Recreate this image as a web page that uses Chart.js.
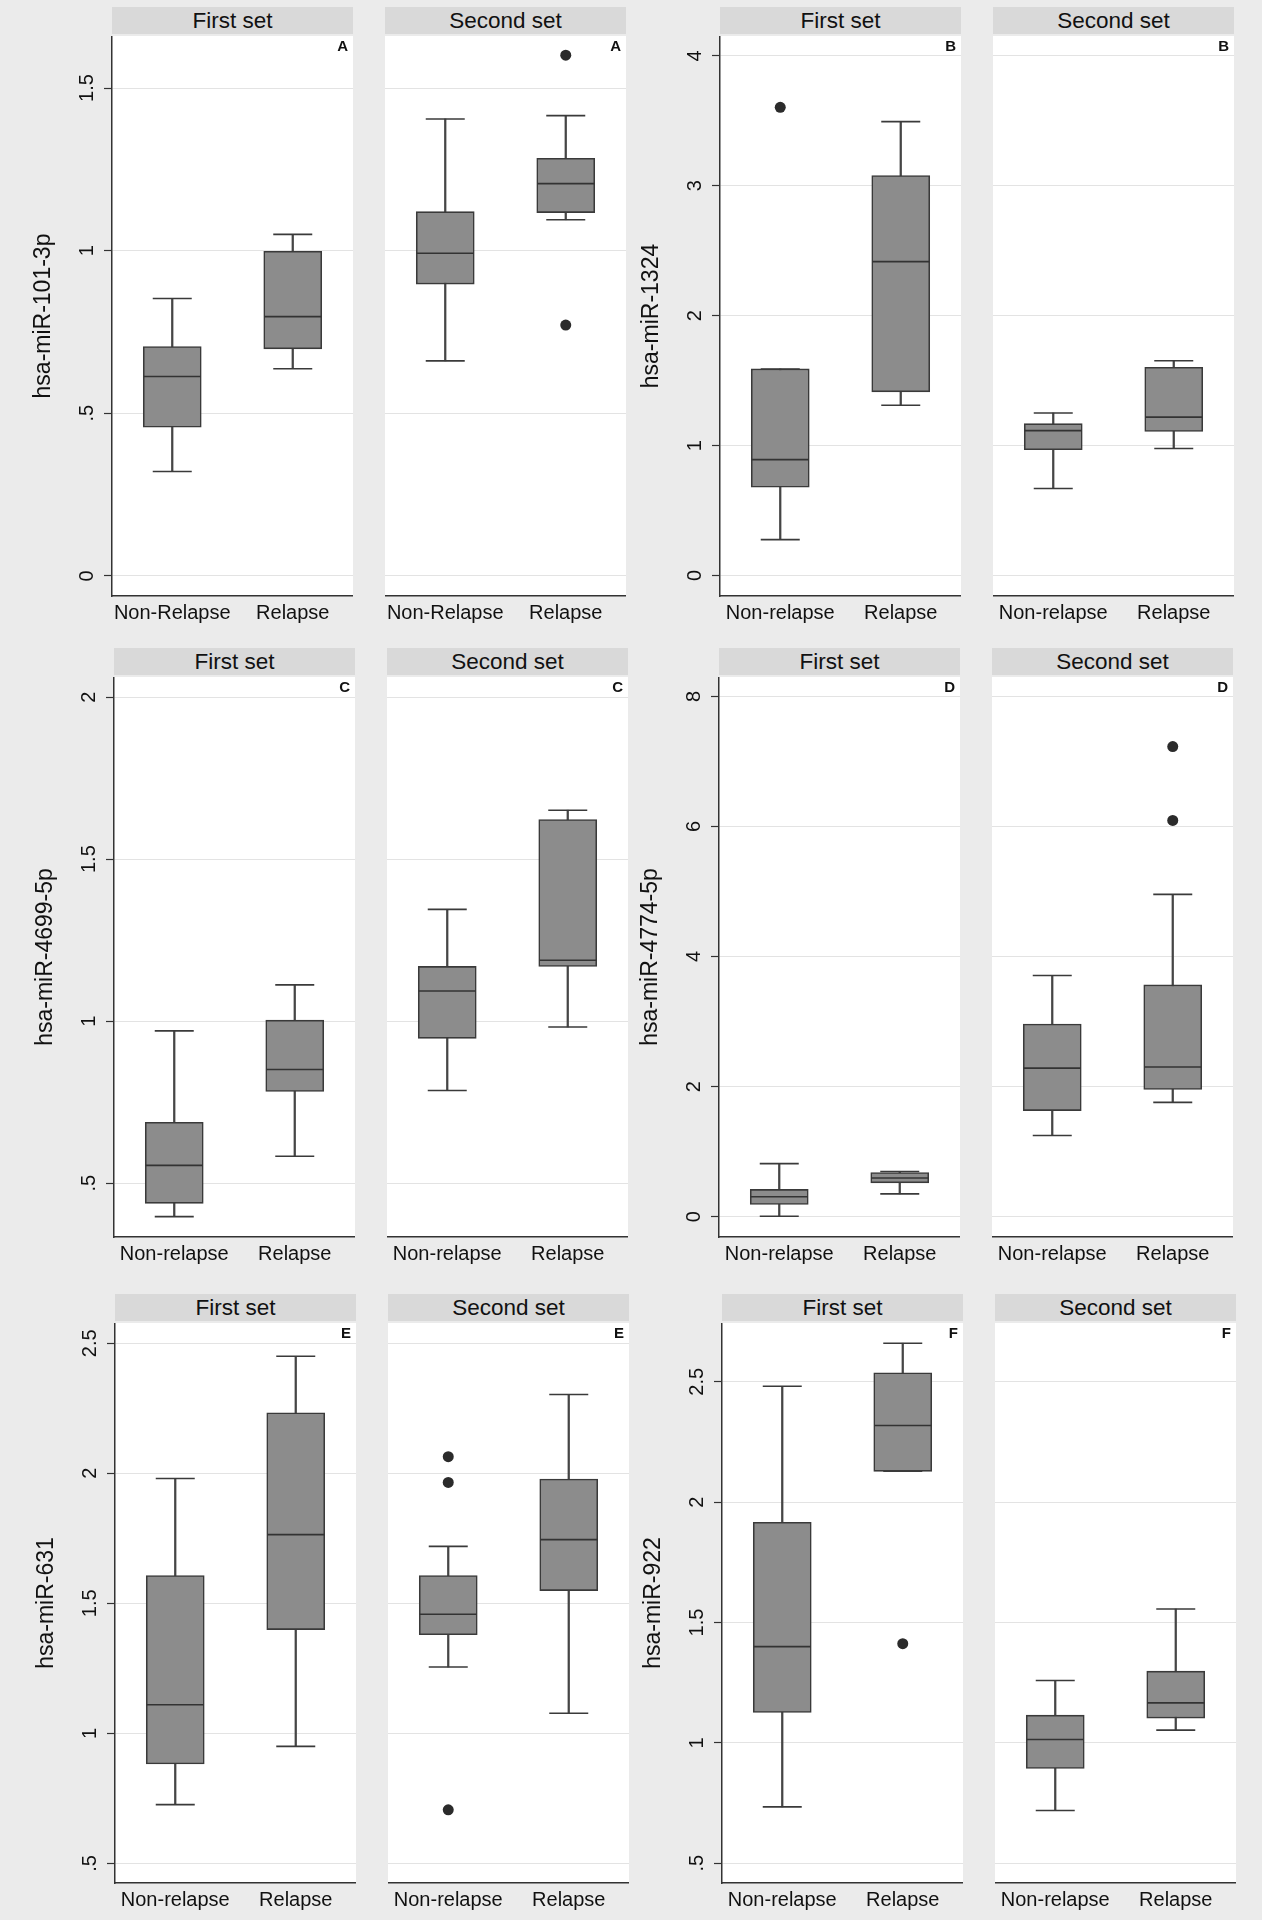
<!DOCTYPE html>
<html><head><meta charset="utf-8">
<script src="https://cdn.jsdelivr.net/npm/chart.js"></script>
<style>
html,body{margin:0;padding:0;background:#ebebeb;}
body{width:1262px;height:1920px;position:relative;overflow:hidden;font-family:"Liberation Sans",Arial,sans-serif;}
canvas{position:absolute;}
.strip{position:absolute;background:#d9d9d9;color:#111;font-size:22.5px;display:flex;align-items:center;justify-content:center;}
.tag{position:absolute;font-weight:bold;font-size:15px;line-height:16px;color:#111;text-align:right;width:30px;}
</style></head><body>
<script>
// ---------- DATA ----------
const panelLetters = ['A', 'B', 'C', 'D', 'E', 'F'];
const setNames = ['First set', 'Second set'];
const groupsA = ['Non-Relapse', 'Relapse'];
const groupsOther = ['Non-relapse', 'Relapse'];
const yTitles = ['hsa-miR-101-3p', 'hsa-miR-1324', 'hsa-miR-4699-5p', 'hsa-miR-4774-5p', 'hsa-miR-631', 'hsa-miR-922'];

const ticksA = [0, 0.5, 1, 1.5];      const tickLabelsA = ['0', '.5', '1', '1.5'];
const ticksB = [0, 1, 2, 3, 4];       const tickLabelsB = ['0', '1', '2', '3', '4'];
const ticksC = [0.5, 1, 1.5, 2];      const tickLabelsC = ['.5', '1', '1.5', '2'];
const ticksD = [0, 2, 4, 6, 8];       const tickLabelsD = ['0', '2', '4', '6', '8'];
const ticksE = [0.5, 1, 1.5, 2, 2.5]; const tickLabelsE = ['.5', '1', '1.5', '2', '2.5'];
const ticksF = [0.5, 1, 1.5, 2, 2.5]; const tickLabelsF = ['.5', '1', '1.5', '2', '2.5'];

const rangeA = [-0.062, 1.66];
const rangeB = [-0.158, 4.153];
const rangeC = [0.334, 2.062];
const rangeD = [-0.312, 8.297];
const rangeE = [0.4245, 2.578];
const rangeF = [0.418, 2.744];

// box stats per group: [lower whisker, Q1, median, Q3, upper whisker]
const A_first  = [[0.321, 0.457, 0.613, 0.705, 0.853], [0.637, 0.698, 0.797, 0.998, 1.050]];
const A_second = [[0.661, 0.897, 0.992, 1.120, 1.405], [1.095, 1.117, 1.206, 1.284, 1.415]];
const B_first  = [[0.276, 0.679, 0.892, 1.590, 1.590], [1.310, 1.414, 2.416, 3.079, 3.494]];
const B_second = [[0.669, 0.968, 1.115, 1.169, 1.251], [0.977, 1.109, 1.219, 1.603, 1.653]];
const C_first  = [[0.397, 0.438, 0.555, 0.688, 0.970], [0.583, 0.783, 0.851, 1.003, 1.112]];
const C_second = [[0.786, 0.947, 1.093, 1.169, 1.345], [0.982, 1.169, 1.188, 1.622, 1.651]];
const D_first  = [[0.006, 0.188, 0.307, 0.420, 0.816], [0.351, 0.521, 0.596, 0.678, 0.696]];
const D_second = [[1.248, 1.631, 2.284, 2.961, 3.708], [1.757, 1.957, 2.302, 3.563, 4.956]];
const E_first  = [[0.726, 0.882, 1.110, 1.607, 1.980], [0.950, 1.399, 1.764, 2.233, 2.450]];
const E_second = [[1.255, 1.379, 1.458, 1.607, 1.719], [1.077, 1.549, 1.745, 1.978, 2.303]];
const F_first  = [[0.734, 1.126, 1.400, 1.916, 2.481], [2.128, 2.128, 2.318, 2.537, 2.660]];
const F_second = [[0.719, 0.894, 1.014, 1.115, 1.259], [1.053, 1.103, 1.166, 1.298, 1.556]];

// outliers per group
const A_first_out  = [[], []];
const A_second_out = [[], [1.601, 0.771]];
const B_first_out  = [[3.604], []];
const B_second_out = [[], []];
const C_first_out  = [[], []];
const C_second_out = [[], []];
const D_first_out  = [[], []];
const D_second_out = [[], [7.227, 6.092]];
const E_first_out  = [[], []];
const E_second_out = [[2.064, 1.965, 0.706], []];
const F_first_out  = [[], [1.412]];
const F_second_out = [[], []];

// ---------- ASSEMBLY ----------
const panels = [
  {groups: groupsA,     ticks: ticksA, tickLabels: tickLabelsA, range: rangeA, sets: [A_first, A_second], outs: [A_first_out, A_second_out]},
  {groups: groupsOther, ticks: ticksB, tickLabels: tickLabelsB, range: rangeB, sets: [B_first, B_second], outs: [B_first_out, B_second_out]},
  {groups: groupsOther, ticks: ticksC, tickLabels: tickLabelsC, range: rangeC, sets: [C_first, C_second], outs: [C_first_out, C_second_out]},
  {groups: groupsOther, ticks: ticksD, tickLabels: tickLabelsD, range: rangeD, sets: [D_first, D_second], outs: [D_first_out, D_second_out]},
  {groups: groupsOther, ticks: ticksE, tickLabels: tickLabelsE, range: rangeE, sets: [E_first, E_second], outs: [E_first_out, E_second_out]},
  {groups: groupsOther, ticks: ticksF, tickLabels: tickLabelsF, range: rangeF, sets: [F_first, F_second], outs: [F_first_out, F_second_out]}
];

// layout: [sub1 left, sub2 left, plot top]
const layout = [[112, 385, 36], [720, 993, 36], [114, 387, 677], [719, 992, 677], [115, 388, 1323], [722, 995, 1323]];
const SUBW = 241, PLOTH = 560, YAXW = 100, XAXH = 40;
const FAMILY = '"Liberation Sans", Arial, sans-serif';

const measureCtx = document.createElement('canvas').getContext('2d');
measureCtx.font = '20px ' + FAMILY;

const plotBg = {
  id: 'plotBg',
  beforeDraw(chart) {
    const {ctx, chartArea: a} = chart;
    ctx.save();
    ctx.fillStyle = '#ffffff';
    ctx.fillRect(a.left, a.top, a.right - a.left, a.bottom - a.top);
    ctx.restore();
  }
};

function addDiv(cls, text, left, top, width, height) {
  const d = document.createElement('div');
  d.className = cls;
  d.textContent = text;
  d.style.left = left + 'px';
  d.style.top = top + 'px';
  if (width != null) d.style.width = width + 'px';
  if (height != null) d.style.height = height + 'px';
  document.body.appendChild(d);
}

function zeroPad(s) { s.paddingTop = 0; s.paddingBottom = 0; s.paddingLeft = 0; s.paddingRight = 0; }

function makeChart(p, pi, si) {
  const [x1, x2, top] = layout[pi];
  const first = si === 0;
  const stats = p.sets[si];
  const outs = p.outs[si];
  const canvas = document.createElement('canvas');
  const w = first ? YAXW + SUBW : SUBW;
  canvas.width = w; canvas.height = PLOTH + XAXH;
  canvas.style.left = (first ? x1 - YAXW : x2) + 'px';
  canvas.style.top = top + 'px';
  document.body.appendChild(canvas);

  // tick label centre should sit 25px left of the axis line
  const widest = Math.max(...p.tickLabels.map(t => measureCtx.measureText(t).width));
  const tickPad = Math.max(0, 25 - 8 - widest / 2);

  const outPts = [];
  outs.forEach((arr, gi) => arr.forEach(v => outPts.push({x: p.groups[gi], y: v})));

  new Chart(canvas, {
    type: 'bar',
    data: {
      labels: p.groups,
      datasets: [
        {type: 'bar', data: stats.map(s => [s[0], s[4]]), backgroundColor: '#454545', borderWidth: 0,
         barThickness: 1.6, grouped: false, order: 3},
        {type: 'bar', data: stats.map(s => [s[1], s[3]]), backgroundColor: '#8c8c8c', borderColor: '#3a3a3a',
         borderWidth: 1.6, borderSkipped: false, barThickness: 58, grouped: false, order: 2},
        {type: 'line', data: stats.map(s => s[2]), showLine: false, pointStyle: 'line', pointRadius: 28.5,
         pointBorderWidth: 1.6, pointBorderColor: '#333', order: 1},
        {type: 'line', data: stats.map(s => s[4]), showLine: false, pointStyle: 'line', pointRadius: 19.5,
         pointBorderWidth: 1.6, pointBorderColor: '#3a3a3a', order: 1},
        {type: 'line', data: stats.map(s => s[0]), showLine: false, pointStyle: 'line', pointRadius: 19.5,
         pointBorderWidth: 1.6, pointBorderColor: '#3a3a3a', order: 1},
        {type: 'line', data: outPts, showLine: false, pointStyle: 'circle', pointRadius: 5.5,
         pointBackgroundColor: '#2b2b2b', pointBorderColor: '#2b2b2b', pointBorderWidth: 0, order: 0}
      ]
    },
    options: {
      responsive: false, animation: false, devicePixelRatio: 1, events: [],
      layout: {padding: 0, autoPadding: false},
      plugins: {legend: {display: false}, tooltip: {enabled: false}, title: {display: false}},
      scales: {
        x: {
          type: 'category', offset: true,
          afterFit: s => { s.height = XAXH; zeroPad(s); },
          grid: {display: false, drawTicks: false},
          border: {display: true, color: '#333', width: 1.5},
          ticks: {font: {size: 20, family: FAMILY}, color: '#111', padding: 5, maxRotation: 0, minRotation: 0, autoSkip: false}
        },
        y: {
          type: 'linear', min: p.range[0], max: p.range[1],
          afterBuildTicks: s => { s.ticks = p.ticks.map(v => ({value: v})); },
          afterFit: s => { s.width = first ? YAXW : 0; zeroPad(s); },
          grid: {color: '#e3e3e3', lineWidth: 1, drawTicks: first, tickLength: 8, tickColor: '#333', tickWidth: 1.2},
          border: {display: first, color: '#333', width: 1.5},
          ticks: {display: first, callback: (v, i) => p.tickLabels[i], font: {size: 20, family: FAMILY}, color: '#111',
                  minRotation: 90, maxRotation: 90, crossAlign: 'center', padding: tickPad, autoSkip: false},
          title: {display: first, text: yTitles[pi], color: '#111', font: {size: 23, family: FAMILY, lineHeight: 1},
                  padding: {top: YAXW - 68 - 11.5, bottom: 0}}
        }
      }
    },
    plugins: [plotBg]
  });

  const left = first ? x1 : x2;
  addDiv('strip', setNames[si], left, top - 29, SUBW, 27);
  addDiv('tag', panelLetters[pi], left + SUBW - 35, top + 2, null, null);
}

panels.forEach((p, pi) => { makeChart(p, pi, 0); makeChart(p, pi, 1); });
</script>
</body></html>
